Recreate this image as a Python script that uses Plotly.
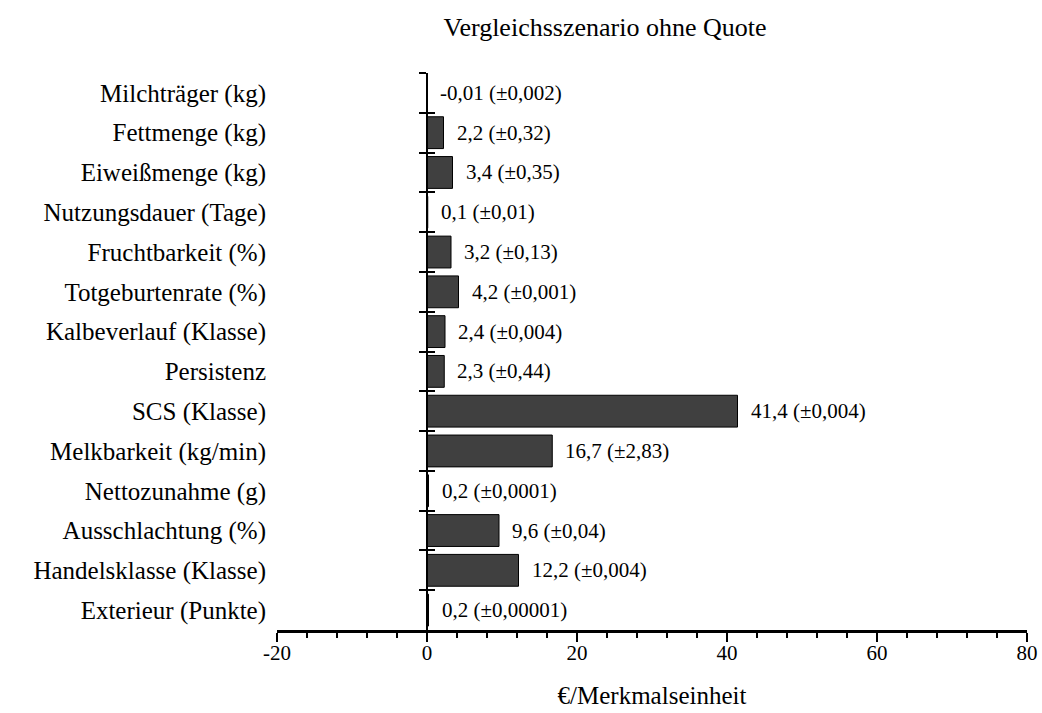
import plotly.graph_objects as go

categories = ["Milchträger (kg)", "Fettmenge (kg)", "Eiweißmenge (kg)", "Nutzungsdauer (Tage)",
              "Fruchtbarkeit (%)", "Totgeburtenrate (%)", "Kalbeverlauf (Klasse)", "Persistenz",
              "SCS (Klasse)", "Melkbarkeit (kg/min)", "Nettozunahme (g)", "Ausschlachtung (%)",
              "Handelsklasse (Klasse)", "Exterieur (Punkte)"]
values = [-0.01, 2.2, 3.4, 0.1, 3.2, 4.2, 2.4, 2.3, 41.4, 16.7, 0.2, 9.6, 12.2, 0.2]
value_labels = ["-0,01", "2,2", "3,4", "0,1", "3,2", "4,2", "2,4", "2,3", "41,4", "16,7", "0,2", "9,6", "12,2", "0,2"]
error_labels = ["0,002", "0,32", "0,35", "0,01", "0,13", "0,001", "0,004", "0,44", "0,004", "2,83",
                "0,0001", "0,04", "0,004", "0,00001"]
x_ticks = [-20, 0, 20, 40, 60, 80]
x_tick_text = ["-20", "0", "20", "40", "60", "80"]

FONT = "Liberation Serif, Times New Roman, serif"
n = len(categories)
yrange = [n - 0.5, -0.5]

W, H = 1042, 713

fig = go.Figure()
fig.add_trace(go.Bar(
    x=values, y=categories, orientation="h",
    marker=dict(color="#404040", line=dict(color="#000000", width=1)),
    width=0.8, hoverinfo="skip", showlegend=False,
))
# invisible traces to drive the axis at x=0 (ticks crossing)
for ax in ["y2", "y3"]:
    fig.add_trace(go.Scatter(x=[0] * n, y=categories, yaxis=ax, mode="markers",
                             marker=dict(opacity=0), hoverinfo="skip", showlegend=False))

for v, vl, el, c in zip(values, value_labels, error_labels, categories):
    fig.add_annotation(x=max(v, 0), y=c, text=f"{vl} (±{el})", showarrow=False,
                       xanchor="left", yanchor="middle", xshift=11,
                       font=dict(family=FONT, size=21, color="black"))

fig.update_layout(
    width=W, height=H,
    margin=dict(l=277, r=15, t=73, b=83, autoexpand=False),
    paper_bgcolor="white", plot_bgcolor="white",
    title=dict(text="Vergleichsszenario ohne Quote", x=605 / W, xanchor="center",
               y=1 - 27 / H, yanchor="middle", font=dict(family=FONT, size=26, color="black")),
    font=dict(family=FONT, color="black"),
    xaxis=dict(range=[-20, 80], tickvals=x_ticks, ticktext=x_tick_text, ticks="outside", ticklen=9, tickwidth=2,
               tickcolor="black", showline=True, linecolor="black", linewidth=3,
               showgrid=False, zeroline=False, automargin=False, ticklabelstandoff=-7,
               minor=dict(dtick=4, tick0=-20, ticks="outside", ticklen=5, tickwidth=2, tickcolor="black"),
               tickfont=dict(family=FONT, size=21, color="black"),
               title=dict(text="€/Merkmalseinheit", font=dict(family=FONT, size=25, color="black"), standoff=23)),
    yaxis=dict(type="category", categoryorder="array", categoryarray=categories, range=yrange,
               showline=False, ticks="", showgrid=False, zeroline=False, ticklabelstandoff=10,
               automargin=False, tickfont=dict(family=FONT, size=25, color="black")),
    yaxis2=dict(type="category", categoryorder="array", categoryarray=categories, range=yrange,
                overlaying="y", anchor="free", position=0.2, showline=True, linecolor="black", linewidth=2,
                ticks="outside", tickson="boundaries", ticklen=7, tickwidth=2, tickcolor="black",
                showticklabels=False, showgrid=False, zeroline=False, automargin=False),
    yaxis3=dict(type="category", categoryorder="array", categoryarray=categories, range=yrange,
                overlaying="y", anchor="free", position=0.2, showline=False,
                ticks="inside", tickson="boundaries", ticklen=7, tickwidth=2, tickcolor="black",
                showticklabels=False, showgrid=False, zeroline=False, automargin=False),
)

fig.write_html("out.html", config={"displayModeBar": False},
               post_script=["document.body.style.margin='0';document.body.style.overflow='hidden';"])
